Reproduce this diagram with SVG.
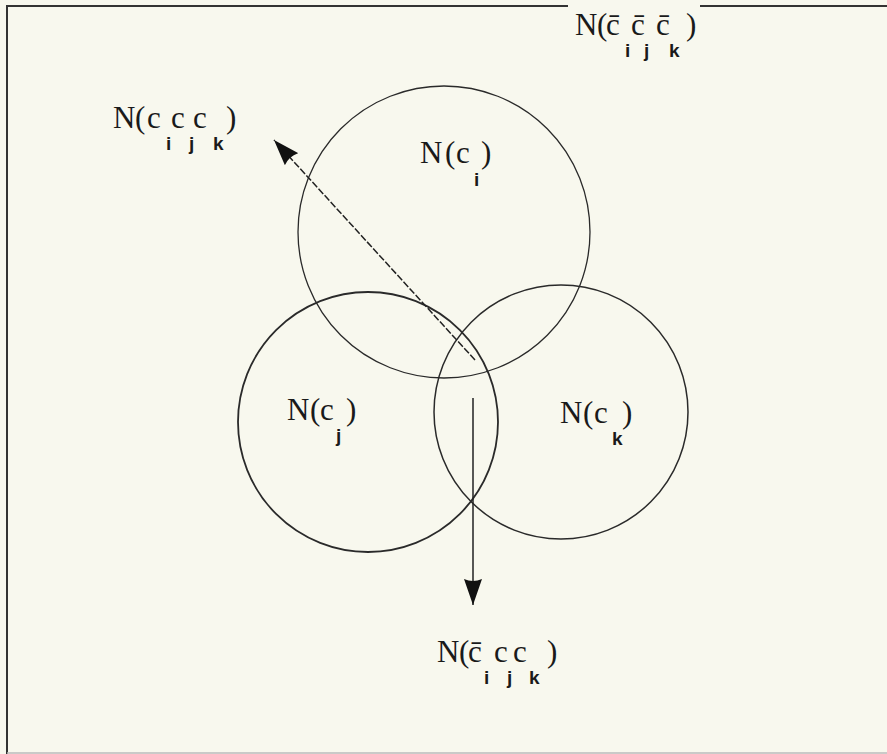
<svg xmlns="http://www.w3.org/2000/svg" width="887" height="754" viewBox="0 0 887 754">
<defs>
<style>
.frame{stroke:#333;stroke-width:2;fill:none}
.circ{fill:none;stroke:#2a2a2a}
.lbl{font-family:"Liberation Serif","Times New Roman",serif;font-size:31px;fill:#1a1a1a}
.sub{font-family:"Liberation Sans",Arial,sans-serif;font-size:19px;font-weight:bold;fill:#1a1a1a}
.conn{stroke:#222;stroke-width:1.5;fill:none}
</style>
<marker id="ah" markerUnits="userSpaceOnUse" markerWidth="26" markerHeight="18" viewBox="0 0 26 18" refX="26" refY="9" orient="auto">
<path d="M0,0 L26,9 L0,18 Q4,9 0,0 z" fill="#111"/>
</marker>
</defs>
<rect x="0" y="0" width="887" height="754" fill="#f8f8ee"/>
<g id="frame">
<path class="frame" d="M7,754 L7,6 L568,6 M700,6 L887,6"/>
<path d="M7,753 L887,753" stroke="#bbb" stroke-width="1.5" fill="none"/>
</g>
<g id="node-ci">
<circle class="circ" cx="444" cy="232" r="146" stroke-width="1.3" stroke="#555"/>
<text class="lbl" y="163"><tspan x="420">N</tspan><tspan x="445">(</tspan><tspan x="456">c</tspan><tspan x="481">)</tspan></text>
<text class="sub" x="474" y="186">i</text>
</g>
<g id="node-cj">
<circle class="circ" cx="368" cy="422" r="130" stroke-width="1.8"/>
<text class="lbl" y="420"><tspan x="287">N</tspan><tspan x="310">(</tspan><tspan x="320">c</tspan><tspan x="346">)</tspan></text>
<text class="sub" x="336" y="442">j</text>
</g>
<g id="node-ck">
<circle class="circ" cx="561" cy="412" r="127" stroke-width="1.5"/>
<text class="lbl" y="423"><tspan x="560">N</tspan><tspan x="583">(</tspan><tspan x="594">c</tspan><tspan x="622">)</tspan></text>
<text class="sub" x="612" y="445">k</text>
</g>
<g id="label-none">
<text class="lbl" y="35"><tspan x="575">N</tspan><tspan x="597">(</tspan><tspan x="606">c̄</tspan><tspan x="631">c̄</tspan><tspan x="656">c̄</tspan><tspan x="686">)</tspan></text>
<text class="sub" y="57"><tspan x="625">i</tspan><tspan x="644">j</tspan><tspan x="669">k</tspan></text>
</g>
<g id="label-all">
<text class="lbl" y="128"><tspan x="113">N</tspan><tspan x="135">(</tspan><tspan x="147">c</tspan><tspan x="171">c</tspan><tspan x="193">c</tspan><tspan x="226">)</tspan></text>
<text class="sub" y="150"><tspan x="166">i</tspan><tspan x="189">j</tspan><tspan x="213">k</tspan></text>
</g>
<g id="label-notci">
<text class="lbl" y="662"><tspan x="437">N</tspan><tspan x="459">(</tspan><tspan x="468">c̄</tspan><tspan x="494">c</tspan><tspan x="513">c</tspan><tspan x="547">)</tspan></text>
<text class="sub" y="684"><tspan x="484">i</tspan><tspan x="507">j</tspan><tspan x="529">k</tspan></text>
</g>
<g id="connectors">
<line class="conn" x1="475" y1="360" x2="274" y2="140" stroke-dasharray="7 2" stroke-width="1.3" marker-end="url(#ah)"/>
<line class="conn" x1="473" y1="398" x2="473" y2="605" marker-end="url(#ah)"/>
</g>
</svg>
